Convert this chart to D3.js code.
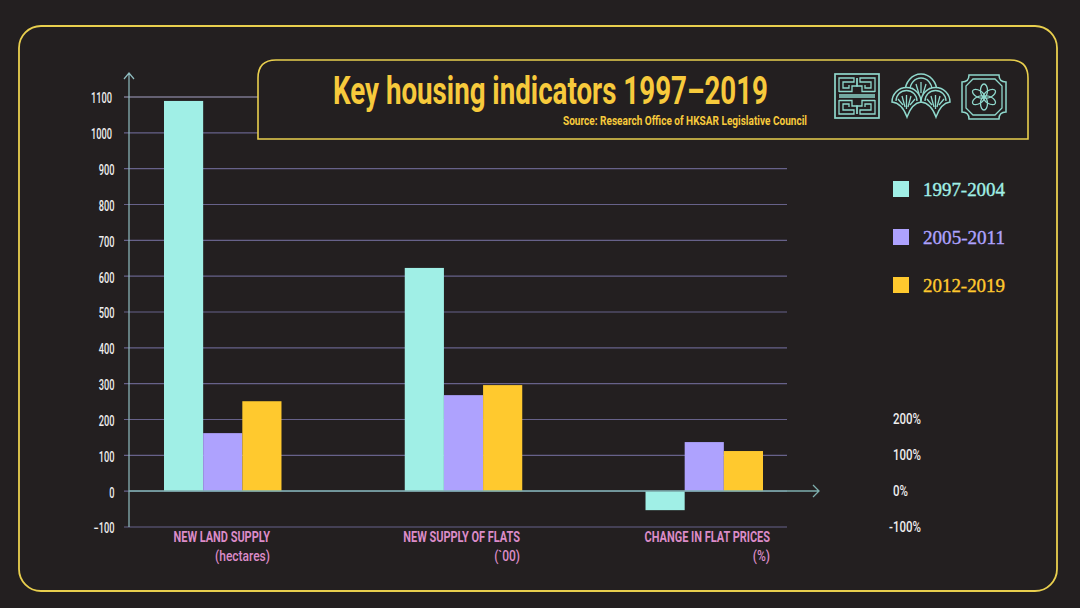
<!DOCTYPE html>
<html>
<head>
<meta charset="utf-8">
<script src="https://d3js.org/d3.v7.min.js"></script>
<style>
  html, body { margin: 0; padding: 0; background: #231f20; }
  svg { display: block; }
  text { font-family: Roboto, sans-serif; }
</style>
</head>
<body>
<div id="chart"></div>
<script>
// Chart data
var categories = ["NEW LAND SUPPLY", "NEW SUPPLY OF FLATS", "CHANGE IN FLAT PRICES"];
var units = ["(hectares)", "(`00)", "(%)"];
var seriesNames = ["1997-2004", "2005-2011", "2012-2019"];
var landSupply = [1089, 162, 251];
var flatSupply = [623, 268, 296];
var priceChange = [-53, 137, 112];
var leftTicks = [-100, 0, 100, 200, 300, 400, 500, 600, 700, 800, 900, 1000, 1100];
var rightTicks = [-100, 0, 100, 200];
var seriesColors = ["#a0efe6", "#aea2fe", "#ffc92e"];

var bg = "#231f20";
var gold = "#e9cf4e";

// no condensed font installed, so narrow the text to the width it has in the picture
function squeeze(selection, factor) {
  selection.each(function() {
    d3.select(this)
      .attr("textLength", this.getComputedTextLength() * factor)
      .attr("lengthAdjust", "spacingAndGlyphs");
  });
}

var svg = d3.select("#chart").append("svg")
  .attr("width", 1080)
  .attr("height", 608);

// outer frame
svg.append("rect")
  .attr("x", 19).attr("y", 26)
  .attr("width", 1038).attr("height", 565)
  .attr("rx", 22)
  .attr("fill", bg)
  .attr("stroke", gold)
  .attr("stroke-width", 1.8);

// Scales: left axis is for the two supply groups, right axis for the % group
var yLeft = d3.scaleLinear().domain([-100, 1100]).range([527, 97]);
var yRight = d3.scaleLinear().domain([-100, 200]).range([527, 419.5]);

var xGroup = d3.scaleBand()
  .domain(categories)
  .range([164, 763])
  .paddingInner(0.512);

var xBar = d3.scaleBand()
  .domain(seriesNames)
  .range([0, xGroup.bandwidth()]);

// gridlines + left tick labels
var leftAxis = d3.axisLeft(yLeft)
  .tickValues(leftTicks)
  .tickFormat(d3.format("d"))
  .tickSize(0)
  .tickPadding(0);

var gridGroup = svg.append("g");
gridGroup.selectAll("line")
  .data(leftTicks)
  .enter()
  .append("line")
  .attr("x1", 124)
  .attr("x2", 787)
  .attr("y1", d => yLeft(d))
  .attr("y2", d => yLeft(d))
  .attr("stroke", d => d == 1100 ? "#a5a1c4" : "#67628a")
  .attr("stroke-width", 1.1);

var leftAxisGroup = svg.append("g")
  .attr("transform", "translate(0,1.5)")
  .call(leftAxis);
leftAxisGroup.select(".domain").remove();
leftAxisGroup.selectAll("text")
  .attr("x", d => d >= 1000 ? 112 : 114.5)
  .attr("fill", "#efeeee")
  .attr("font-size", 14)
  .attr("font-weight", 500)
  .attr("font-family", "Roboto, sans-serif")
  .call(squeeze, 0.66);

// bars
var groups = [landSupply, flatSupply, priceChange];
groups.forEach((values, g) => {
  var scale = g == 2 ? yRight : yLeft;
  svg.append("g")
    .attr("transform", `translate(${xGroup(categories[g])},0)`)
    .selectAll("rect")
    .data(values)
    .enter()
    .append("rect")
    .attr("x", (d, i) => xBar(seriesNames[i]))
    .attr("y", d => Math.min(scale(d), scale(0)))
    .attr("width", xBar.bandwidth())
    .attr("height", d => Math.abs(scale(d) - scale(0)))
    .attr("fill", (d, i) => seriesColors[i]);
});

// axis lines with arrows
var axisColor = "#7eaead";
svg.append("path")
  .attr("d", "M129,527V73M124,79L129,73L134,79")
  .attr("fill", "none")
  .attr("stroke", "#8fbcc0")
  .attr("stroke-width", 1.2);
svg.append("path")
  .attr("d", "M129,491H819M813,485L819,491L813,497")
  .attr("fill", "none")
  .attr("stroke", axisColor)
  .attr("stroke-width", 1.3);

// right tick labels
var rightAxis = d3.axisLeft(yRight)
  .tickValues(rightTicks)
  .tickFormat(d => d + "%")
  .tickSize(0)
  .tickPadding(0);
var rightAxisGroup = svg.append("g")
  .call(rightAxis);
rightAxisGroup.select(".domain").remove();
// the right labels are left-aligned except -100%
rightAxisGroup.selectAll("text")
  .attr("text-anchor", "start")
  .attr("x", d => d < 0 ? 889 : 893)
  .attr("fill", "#efeeee")
  .attr("font-size", 14)
  .attr("font-weight", 500)
  .attr("font-family", "Roboto, sans-serif")
  .call(squeeze, 0.82);

// category labels, right aligned to these x positions
var labelEnds = [270, 520, 770];
svg.selectAll(".catLabel")
  .data(categories)
  .enter()
  .append("text")
  .attr("x", (d, i) => labelEnds[i])
  .attr("y", 542)
  .attr("text-anchor", "end")
  .attr("font-size", 15)
  .attr("font-weight", 700)
  .attr("fill", "#dc8cc8")
  .text(d => d)
  .call(squeeze, 0.73);
svg.selectAll(".unitLabel")
  .data(units)
  .enter()
  .append("text")
  .attr("x", (d, i) => labelEnds[i])
  .attr("y", 561)
  .attr("text-anchor", "end")
  .attr("font-size", 15)
  .attr("font-weight", 500)
  .attr("fill", "#dc8cc8")
  .text(d => d)
  .call(squeeze, 0.8);

// title box (square bottom corners, round top corners)
svg.append("path")
  .attr("d", "M258,139V78Q258,60 276,60H1010Q1028,60 1028,78V139Z")
  .attr("fill", bg)
  .attr("stroke", gold)
  .attr("stroke-width", 1.6);

svg.append("text")
  .attr("x", 333)
  .attr("y", 104)
  .attr("font-size", 39)
  .attr("font-weight", 700)
  .attr("textLength", 435)
  .attr("lengthAdjust", "spacingAndGlyphs")
  .attr("fill", "#f7ca3c")
  .text("Key housing indicators 1997\u20132019");

svg.append("text")
  .attr("x", 563)
  .attr("y", 125)
  .attr("font-size", 12)
  .attr("font-weight", 700)
  .attr("textLength", 244)
  .attr("lengthAdjust", "spacingAndGlyphs")
  .attr("fill", "#f7ca3c")
  .text("Source: Research Office of HKSAR Legislative Council");

// legend
var legendY = d3.scalePoint().domain(seriesNames).range([189, 285]);
var legend = svg.selectAll(".legendItem")
  .data(seriesNames)
  .enter()
  .append("g")
  .attr("transform", d => `translate(893,${legendY(d)})`);
legend.append("rect")
  .attr("x", 0).attr("y", -8)
  .attr("width", 16).attr("height", 16)
  .attr("fill", (d, i) => seriesColors[i]);
legend.append("text")
  .attr("x", 30)
  .attr("y", 7)
  .attr("font-size", 18)
  .attr("textLength", 82)
  .attr("lengthAdjust", "spacingAndGlyphs")
  .style("font-family", "'Liberation Serif', serif")
  .attr("fill", (d, i) => seriesColors[i])
  .attr("stroke", (d, i) => seriesColors[i])
  .attr("stroke-width", 0.35)
  .text(d => d);

// decorative icons in the title box
var icons = svg.append("g")
  .attr("fill", "none")
  .attr("stroke", "#8fd8cc")
  .attr("stroke-width", 1.3);

// maze square: one quarter mirrored four times
var maze = icons.append("g").attr("transform", "translate(835,74)");
maze.append("rect").attr("width", 44).attr("height", 44).attr("stroke-width", 1.7);
maze.append("path").attr("d", "M4,21H40M4,23H40");
[[1, 1, 0, 0], [-1, 1, 44, 0], [1, -1, 0, 44], [-1, -1, 44, 44]].forEach(m => {
  maze.append("path")
    .attr("transform", `matrix(${m[0]},0,0,${m[1]},${m[2]},${m[3]})`)
    .attr("d", "M4,18V4H19V8H8V14H14V11M22,4V12H17V17.500H4");
});

// three scallops
var fan = icons.append("g").attr("transform", "translate(892,74)");
var fanOutline = "M0,28A14.500,14.500 0 0 1 29,28Q20,29 15,43Q10,29 0,28Z";
fan.append("path").attr("d", "M13,18A16,18 0 0 1 45,18").attr("stroke-width", 1.5);
fan.append("path").attr("d", "M18,16A11,12 0 0 1 40,16");
fan.append("path").attr("d", "M29,8V19M24,10L27,20M34,10L31,20M20,14L25,21M38,14L33,21");
[0, 29].forEach(dx => {
  var f = fan.append("g").attr("transform", `translate(${dx},0)`);
  f.append("path").attr("d", fanOutline).attr("fill", bg).attr("stroke-width", 1.5);
  f.append("path").attr("d", "M4,27A10.500,10.500 0 0 1 25,27");
  f.append("path").attr("d", "M14.500,21V35M10,22L13,33M19,22L16,33M6,25L11,31M23,25L18,31");
});

// notched octagon with flower
var oct = icons.append("g").attr("transform", "translate(984,97)");
oct.append("path")
  .attr("stroke-width", 1.5)
  .attr("d", "M-15,-22H15Q15,-15 22,-15V15Q15,15 15,22H-15Q-15,15 -22,15V-15Q-15,-15 -15,-22Z");
oct.append("path")
  .attr("d", "M-11,-18H11L18,-11V11L11,18H-11L-18,11V-11Z");
d3.range(6).forEach(i => {
  oct.append("ellipse")
    .attr("cx", 0).attr("cy", -6.500)
    .attr("rx", 3.500).attr("ry", 6.500)
    .attr("transform", `rotate(${i * 60})`);
});
</script>
</body>
</html>
